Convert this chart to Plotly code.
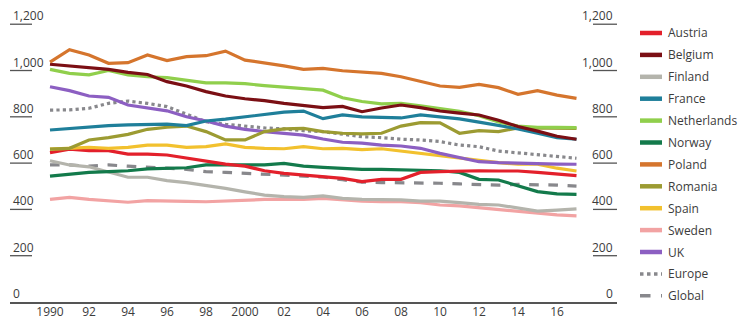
import plotly.graph_objects as go

years = list(range(1990, 2018))

austria = [645, 660, 654, 654, 639, 639, 635, 621, 610, 596, 587, 567, 556, 549, 541, 534, 520, 530, 530, 560, 563, 566, 567, 566, 566, 560, 552, 546]
belgium = [1027, 1020, 1012, 1005, 992, 983, 952, 933, 909, 890, 878, 870, 858, 848, 840, 845, 822, 838, 851, 840, 825, 816, 808, 785, 758, 738, 716, 703]
finland = [610, 592, 584, 563, 539, 539, 524, 516, 505, 491, 476, 462, 455, 452, 458, 448, 443, 443, 441, 436, 436, 429, 422, 419, 405, 393, 397, 402]
france = [743, 750, 755, 762, 765, 768, 768, 762, 782, 790, 800, 812, 820, 825, 792, 808, 800, 798, 795, 808, 798, 791, 777, 763, 748, 729, 710, 703]
netherlands = [1005, 988, 981, 1000, 981, 973, 969, 959, 947, 947, 943, 935, 928, 923, 915, 882, 866, 856, 858, 847, 837, 824, 805, 778, 760, 755, 754, 753]
norway = [544, 552, 560, 563, 567, 575, 578, 580, 592, 592, 592, 592, 599, 587, 582, 578, 573, 573, 570, 567, 567, 560, 530, 527, 503, 477, 467, 465]
poland = [1036, 1090, 1067, 1031, 1034, 1067, 1043, 1060, 1064, 1084, 1045, 1034, 1020, 1005, 1009, 999, 992, 988, 973, 952, 933, 927, 940, 926, 897, 913, 894, 880]
romania = [660, 664, 700, 710, 724, 746, 755, 760, 736, 700, 700, 736, 748, 750, 736, 729, 726, 729, 760, 775, 774, 729, 740, 736, 752, 752, 750, 750]
spain = [660, 664, 668, 664, 668, 678, 678, 668, 671, 683, 668, 664, 662, 671, 662, 664, 658, 662, 652, 639, 631, 621, 610, 602, 595, 595, 578, 566]
sweden = [443, 452, 443, 438, 431, 438, 438, 435, 433, 436, 441, 443, 443, 443, 448, 441, 436, 433, 433, 429, 419, 415, 407, 402, 394, 386, 376, 372]
uk = [930, 913, 890, 884, 851, 837, 826, 800, 782, 760, 746, 736, 729, 721, 704, 690, 686, 678, 674, 664, 642, 625, 606, 602, 599, 596, 596, 595]
europe = [829, 830, 837, 858, 868, 858, 844, 812, 779, 768, 760, 752, 748, 740, 736, 724, 714, 710, 703, 700, 693, 678, 671, 652, 645, 638, 628, 621]
global_ = [592, 592, 587, 592, 587, 584, 578, 573, 563, 560, 556, 553, 550, 545, 540, 528, 518, 516, 516, 513, 513, 510, 508, 505, 508, 508, 505, 501]

x_tickvals = list(range(1990, 2017, 2))
x_ticktext = ["1990", "92", "94", "96", "98", "2000", "02", "04", "06", "08", "10", "12", "14", "16"]
y_tickvals = [0, 200, 400, 600, 800, 1000, 1200]
y_ticktext = ["0", "200", "400", "600", "800", "1,000", "1,200"]

# name, values, colour, dash
series = [
    ("Austria", austria, "#e3202b", "solid"),
    ("Belgium", belgium, "#7b0f14", "solid"),
    ("Finland", finland, "#b4b4ac", "solid"),
    ("France", france, "#1f7f9a", "solid"),
    ("Netherlands", netherlands, "#90cf4c", "solid"),
    ("Norway", norway, "#137a4b", "solid"),
    ("Poland", poland, "#d5752d", "solid"),
    ("Romania", romania, "#9c9b32", "solid"),
    ("Spain", spain, "#f2c12e", "solid"),
    ("Sweden", sweden, "#f2a3a3", "solid"),
    ("UK", uk, "#8c5fc2", "solid"),
    ("Europe", europe, "#88888c", "dot"),
    ("Global", global_, "#88888c", "dash"),
]
draw_order = ["Europe", "Global", "Sweden", "Finland", "Norway", "Austria", "Spain",
              "UK", "Romania", "France", "Netherlands", "Belgium", "Poland"]

W, H = 741, 320
PL, PR, PT, PB = 10, 617, 10, 302          # plot area in pixels
X0_PX, PX_PER_YEAR = 50, 19.5
UNITS_PER_PX = 4.32

x_range = [1990 - (X0_PX - PL) / PX_PER_YEAR, 1990 + (PR - X0_PX) / PX_PER_YEAR]
y_range = [0, (PB - PT) * UNITS_PER_PX]


def px_x(px):
    return (px - PL) / (PR - PL)


def px_y(py):
    return (PB - py) / (PB - PT)


FONT = "Open Sans"
TXT = "#3c3c3c"

fig = go.Figure()
lookup = {s[0]: s for s in series}
for name in draw_order:
    _, vals, col, dash = lookup[name]
    fig.add_trace(go.Scatter(
        x=years, y=vals, mode="lines", name=name,
        line=dict(color=col, width=3.2, dash=dash),
        showlegend=False, hoverinfo="skip",
    ))

shapes = []
annotations = []

# value labels on both sides with short stubs beneath
for v, t in zip(y_tickvals, y_ticktext):
    if v > 0:
        shapes.append(dict(type="line", xref="paper", yref="y", x0=0, x1=px_x(32), y0=v, y1=v,
                           line=dict(color="#555555", width=1.3)))
        shapes.append(dict(type="line", xref="paper", yref="y", x0=px_x(593), x1=1, y0=v, y1=v,
                           line=dict(color="#555555", width=1.3)))
    annotations.append(dict(x=0, xref="paper", y=v, yref="y", text=t, showarrow=False,
                            xanchor="left", yanchor="bottom", yshift=-2, xshift=1,
                            font=dict(family=FONT, size=12, color=TXT)))
    annotations.append(dict(x=1, xref="paper", y=v, yref="y", text=t, showarrow=False,
                            xanchor="right", yanchor="bottom", yshift=-2, xshift=-2,
                            font=dict(family=FONT, size=12, color=TXT)))

# legend
for i, (name, _, col, dash) in enumerate(series):
    py = 33 + i * 21.9
    shapes.append(dict(type="line", xref="paper", yref="paper",
                       x0=px_x(640), x1=px_x(662), y0=px_y(py), y1=px_y(py),
                       line=dict(color=col, width=4.5 if dash == "solid" else 3.5, dash=dash)))
    annotations.append(dict(x=px_x(666), xref="paper", y=px_y(py), yref="paper", text=name,
                            showarrow=False, xanchor="left", yanchor="middle",
                            font=dict(family=FONT, size=12, color=TXT)))

fig.update_layout(
    width=W, height=H,
    margin=dict(l=PL, r=W - PR, t=PT, b=H - PB),
    paper_bgcolor="white", plot_bgcolor="white",
    showlegend=False,
    shapes=shapes, annotations=annotations,
    xaxis=dict(range=x_range, tickvals=x_tickvals, ticktext=x_ticktext,
               showgrid=False, zeroline=False, showline=True, linecolor="#555555", linewidth=1.5,
               ticks="", ticklabelstandoff=-2,
               tickfont=dict(family=FONT, size=12, color=TXT), automargin=False),
    yaxis=dict(range=y_range, showgrid=False, zeroline=False, showticklabels=False,
               showline=False, ticks="", automargin=False),
)

fig.write_html("out.html")
